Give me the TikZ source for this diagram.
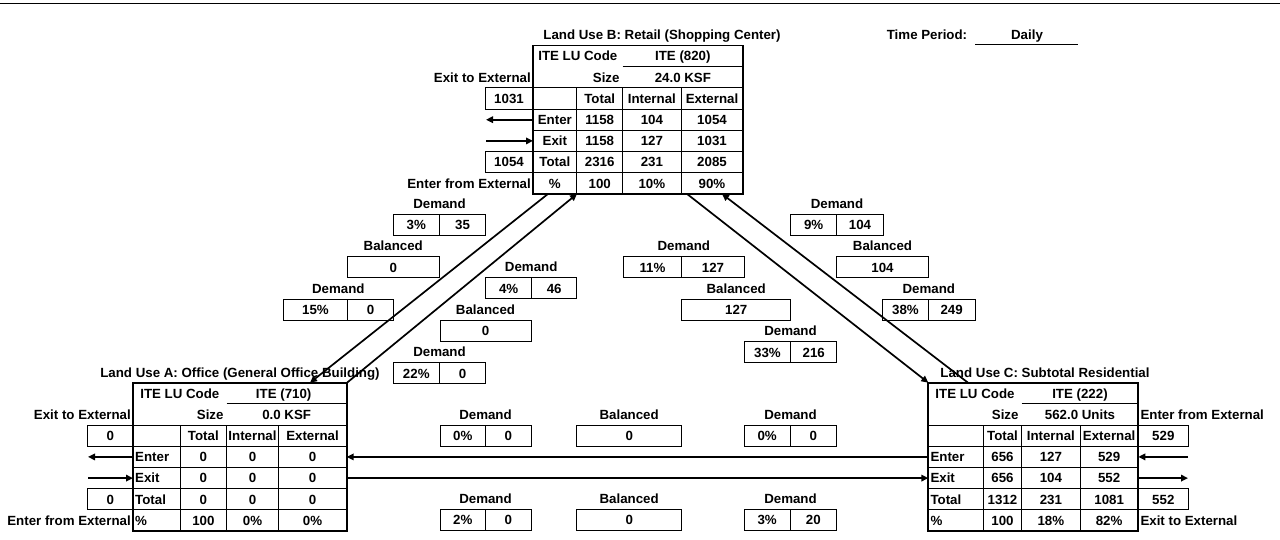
\documentclass[tikz,border=0pt]{standalone}
\usepackage{fontspec}
\setmainfont{Liberation Sans}
\usetikzlibrary{arrows.meta}

%% grid of one land-use table: top y, then the five column edges
\newcommand{\lugrid}[6]{%
  \draw[gridline] (#4,{#1+\rh}) -- (#6,{#1+\rh});
  \foreach \k in {2,...,6}
    \draw[gridline] (#2,{#1+\k*\rh}) -- (#6,{#1+\k*\rh});
  \foreach \c in {#3,#4,#5}
    \draw[gridline] (\c,{#1+2*\rh}) -- (\c,{#1+7*\rh});
  \draw[framed] (#2,#1) rectangle (#6,{#1+7*\rh});
}

%% "Demand" pair: name, left, split, right, top, share, trips
\newcommand{\demand}[7]{%
  \draw[gridline] (#2,#5) rectangle (#4,{#5+\rh});
  \draw[gridline] (#3,#5) -- (#3,{#5+\rh});
  \node (#1-lbl) at ({(#2+#4)/2},{#5-0.5*\rh}) {Demand};
  \node (#1-pct) at ({(#2+#3)/2},{#5+0.5*\rh}) {#6};
  \node (#1-val) at ({(#3+#4)/2},{#5+0.5*\rh}) {#7};
}

%% "Balanced" cell: name, left, right, top, trips
\newcommand{\balanced}[5]{%
  \draw[gridline] (#2,#4) rectangle (#3,{#4+\rh});
  \node (#1-lbl) at ({(#2+#3)/2},{#4-0.5*\rh}) {Balanced};
  \node (#1-val) at ({(#2+#3)/2},{#4+0.5*\rh}) {#5};
}

\begin{document}
\begin{tikzpicture}[
  x=1pt, y=-1pt,
  every node/.style={font=\fontsize{13.3}{15}\selectfont\bfseries,
                     inner sep=0pt, text height=9.5pt, text depth=0pt},
  gridline/.style={line width=0.9pt},
  framed/.style={line width=1.7pt},
  sidebox/.style={draw, line width=0.9pt, minimum height=21.2pt},
  flow/.style={-{Triangle[length=7pt,width=6.5pt]}, line width=1.7pt},
]
\useasboundingbox (0,0) rectangle (1280,539);
\def\rh{21.2}

%% ── Page rule and time period ─────────────────────────
\draw[line width=1.1pt] (0,3.3) -- (1280,3.3);
\node (period)  at (927,35)  {Time Period:};
\node (daily)   at (1027,35) {Daily};
\draw[gridline] (975,44) -- (1078,44);

%% ── Column positions ──────────────────────────────────
\def\Bt{45.5}  \def\Ba{533}   \def\Bb{576.7} \def\Bc{622.7}  \def\Bd{681}  \def\Be{743}
\def\At{382.7} \def\Aa{133}   \def\Ab{180}   \def\Ac{226.7}  \def\Ad{278.3} \def\Ae{346.7}
\def\Ct{382.7} \def\Ca{928.3} \def\Cb{983.3} \def\Cc{1021.7} \def\Cd{1080} \def\Ce{1138.3}

%% ── LAND USE B (top) ──────────────────────────────────
\lugrid{\Bt}{\Ba}{\Bb}{\Bc}{\Bd}{\Be}
\node (B-title) at (662,35) {Land Use B: Retail (Shopping Center)};
\node (B-code) at ({(\Ba+\Bc)/2},{\Bt+0.5*\rh}) {ITE LU Code};
\node (B-ite)  at ({(\Bc+\Be)/2},{\Bt+0.5*\rh}) {ITE (820)};
\node[anchor=east] (B-size) at ({\Bc-3},{\Bt+1.5*\rh}) {Size};
\node (B-ksf)  at ({(\Bc+\Be)/2},{\Bt+1.5*\rh}) {24.0 KSF};
\node (B-h1) at ({(\Bb+\Bc)/2},{\Bt+2.5*\rh}) {Total};
\node (B-h2) at ({(\Bc+\Bd)/2},{\Bt+2.5*\rh}) {Internal};
\node (B-h3) at ({(\Bd+\Be)/2},{\Bt+2.5*\rh}) {External};
\foreach \lbl/\vtot/\vin/\vext [count=\r from 3] in
    {Enter/1158/104/1054, Exit/1158/127/1031, Total/2316/231/2085, \%/100/10\%/90\%} {
  \node (B-\r-0) at ({(\Ba+\Bb)/2},{\Bt+(\r+0.5)*\rh}) {\lbl};
  \node (B-\r-1) at ({(\Bb+\Bc)/2},{\Bt+(\r+0.5)*\rh}) {\vtot};
  \node (B-\r-2) at ({(\Bc+\Bd)/2},{\Bt+(\r+0.5)*\rh}) {\vin};
  \node (B-\r-3) at ({(\Bd+\Be)/2},{\Bt+(\r+0.5)*\rh}) {\vext};
}
\node[anchor=east] (B-exitlbl)  at ({\Ba-2},{\Bt+1.5*\rh}) {Exit to External};
\node[anchor=east] (B-enterlbl) at ({\Ba-2},{\Bt+6.5*\rh}) {Enter from External};
\node[sidebox, minimum width=48pt] (B-exit)  at ({\Ba-24},{\Bt+2.5*\rh}) {1031};
\node[sidebox, minimum width=48pt] (B-enter) at ({\Ba-24},{\Bt+5.5*\rh}) {1054};
\coordinate (B-w3) at (\Ba,{\Bt+3.5*\rh});
\coordinate (B-o3) at (486,{\Bt+3.5*\rh});
\coordinate (B-w4) at (\Ba,{\Bt+4.5*\rh});
\coordinate (B-o4) at (486,{\Bt+4.5*\rh});
\draw[flow] (B-w3) -- (B-o3);
\draw[flow] (B-o4) -- (B-w4);

%% ── LAND USE A (bottom left) ──────────────────────────
\lugrid{\At}{\Aa}{\Ab}{\Ac}{\Ad}{\Ae}
\node (A-title) at (240,373) {Land Use A: Office (General Office Building)};
\node (A-code) at ({(\Aa+\Ac)/2},{\At+0.5*\rh}) {ITE LU Code};
\node (A-ite)  at ({(\Ac+\Ae)/2-3},{\At+0.5*\rh}) {ITE (710)};
\node[anchor=east] (A-size) at ({\Ac-3},{\At+1.5*\rh}) {Size};
\node (A-ksf)  at ({(\Ac+\Ae)/2},{\At+1.5*\rh}) {0.0 KSF};
\node (A-h1) at ({(\Ab+\Ac)/2},{\At+2.5*\rh}) {Total};
\node (A-h2) at ({(\Ac+\Ad)/2},{\At+2.5*\rh}) {Internal};
\node (A-h3) at ({(\Ad+\Ae)/2},{\At+2.5*\rh}) {External};
\foreach \lbl/\vtot/\vin/\vext [count=\r from 3] in
    {Enter/0/0/0, Exit/0/0/0, Total/0/0/0, \%/100/0\%/0\%} {
  \node[anchor=west] (A-\r-0) at ({\Aa+2},{\At+(\r+0.5)*\rh}) {\lbl};
  \node (A-\r-1) at ({(\Ab+\Ac)/2},{\At+(\r+0.5)*\rh}) {\vtot};
  \node (A-\r-2) at ({(\Ac+\Ad)/2},{\At+(\r+0.5)*\rh}) {\vin};
  \node (A-\r-3) at ({(\Ad+\Ae)/2},{\At+(\r+0.5)*\rh}) {\vext};
}
\node[anchor=east] (A-exitlbl)  at ({\Aa-2},{\At+1.5*\rh}) {Exit to External};
\node[anchor=east] (A-enterlbl) at ({\Aa-2},{\At+6.5*\rh}) {Enter from External};
\node[sidebox, minimum width=45.3pt] (A-exit)  at ({\Aa-22.65},{\At+2.5*\rh}) {0};
\node[sidebox, minimum width=45.3pt] (A-enter) at ({\Aa-22.65},{\At+5.5*\rh}) {0};
\coordinate (A-w3) at (\Aa,{\At+3.5*\rh});
\coordinate (A-o3) at (88,{\At+3.5*\rh});
\coordinate (A-w4) at (\Aa,{\At+4.5*\rh});
\coordinate (A-o4) at (88,{\At+4.5*\rh});
\draw[flow] (A-w3) -- (A-o3);
\draw[flow] (A-o4) -- (A-w4);

%% ── LAND USE C (bottom right) ─────────────────────────
\lugrid{\Ct}{\Ca}{\Cb}{\Cc}{\Cd}{\Ce}
\node (C-title) at (1045,373) {Land Use C: Subtotal Residential};
\node (C-code) at ({(\Ca+\Cc)/2},{\Ct+0.5*\rh}) {ITE LU Code};
\node (C-ite)  at ({(\Cc+\Ce)/2},{\Ct+0.5*\rh}) {ITE (222)};
\node[anchor=east] (C-size) at ({\Cc-3},{\Ct+1.5*\rh}) {Size};
\node (C-units) at ({(\Cc+\Ce)/2},{\Ct+1.5*\rh}) {562.0 Units};
\node (C-h1) at ({(\Cb+\Cc)/2},{\Ct+2.5*\rh}) {Total};
\node (C-h2) at ({(\Cc+\Cd)/2},{\Ct+2.5*\rh}) {Internal};
\node (C-h3) at ({(\Cd+\Ce)/2},{\Ct+2.5*\rh}) {External};
\foreach \lbl/\vtot/\vin/\vext [count=\r from 3] in
    {Enter/656/127/529, Exit/656/104/552, Total/1312/231/1081, \%/100/18\%/82\%} {
  \node[anchor=west] (C-\r-0) at ({\Ca+2},{\Ct+(\r+0.5)*\rh}) {\lbl};
  \node (C-\r-1) at ({(\Cb+\Cc)/2},{\Ct+(\r+0.5)*\rh}) {\vtot};
  \node (C-\r-2) at ({(\Cc+\Cd)/2},{\Ct+(\r+0.5)*\rh}) {\vin};
  \node (C-\r-3) at ({(\Cd+\Ce)/2},{\Ct+(\r+0.5)*\rh}) {\vext};
}
\node[anchor=west] (C-enterlbl) at ({\Ce+2},{\Ct+1.5*\rh}) {Enter from External};
\node[anchor=west] (C-exitlbl)  at ({\Ce+2},{\Ct+6.5*\rh}) {Exit to External};
\node[sidebox, minimum width=50pt] (C-enter) at ({\Ce+25},{\Ct+2.5*\rh}) {529};
\node[sidebox, minimum width=50pt] (C-exit)  at ({\Ce+25},{\Ct+5.5*\rh}) {552};
\coordinate (C-e3) at (\Ce,{\Ct+3.5*\rh});
\coordinate (C-o3) at (1188,{\Ct+3.5*\rh});
\coordinate (C-e4) at (\Ce,{\Ct+4.5*\rh});
\coordinate (C-o4) at (1188,{\Ct+4.5*\rh});
\draw[flow] (C-o3) -- (C-e3);
\draw[flow] (C-e4) -- (C-o4);

%% ── Internal trips between land uses ──────────────────
\coordinate (B-s1) at (548,{\Bt+7*\rh});
\coordinate (B-s2) at (577,{\Bt+7*\rh});
\coordinate (B-s3) at (687,{\Bt+7*\rh});
\coordinate (B-s4) at (722,{\Bt+7*\rh});
\coordinate (A-n1) at (310,\At);
\coordinate (A-n2) at (347,\At);
\coordinate (C-n1) at (\Ca,\Ct);
\coordinate (C-n2) at (968,\Ct);
\coordinate (A-e3) at (\Ae,{\At+3.5*\rh});
\coordinate (A-e4) at (\Ae,{\At+4.5*\rh});
\coordinate (C-w3) at (\Ca,{\Ct+3.5*\rh});
\coordinate (C-w4) at (\Ca,{\Ct+4.5*\rh});
\draw[flow] (B-s1) -- (A-n1);
\draw[flow] (A-n2) -- (B-s2);
\draw[flow] (B-s3) -- (C-n1);
\draw[flow] (C-n2) -- (B-s4);
\draw[flow] (C-w3) -- (A-e3);
\draw[flow] (A-e4) -- (C-w4);

%% ── A <-> B ───────────────────────────────────────────
\demand{AB1}{393.3}{439.3}{485.7}{214.3}{3\%}{35}
\balanced{AB2}{347.3}{439.3}{256.7}{0}
\demand{AB3}{283.3}{347.7}{393.3}{299}{15\%}{0}
\demand{BA1}{485.7}{531.7}{576.7}{277.7}{4\%}{46}
\balanced{BA2}{440}{531}{320}{0}
\demand{BA3}{393.3}{439.3}{485.7}{362.7}{22\%}{0}

%% ── B <-> C ───────────────────────────────────────────
\demand{CB1}{790.7}{836.7}{883.3}{214.3}{9\%}{104}
\balanced{CB2}{836.7}{928.3}{256.7}{104}
\demand{CB3}{882.7}{928.3}{975}{299}{38\%}{249}
\demand{BC1}{623.3}{681.7}{744.3}{256.7}{11\%}{127}
\balanced{BC2}{681.7}{790.7}{299.3}{127}
\demand{BC3}{744.3}{790.7}{836.7}{341.7}{33\%}{216}

%% ── A <-> C ───────────────────────────────────────────
\demand{CA1}{440}{485.7}{531}{425.3}{0\%}{0}
\balanced{CA2}{576.7}{681.7}{425.3}{0}
\demand{CA3}{744.3}{790}{836.7}{425.3}{0\%}{0}
\demand{AC1}{440}{485.7}{531}{509}{2\%}{0}
\balanced{AC2}{576.7}{681.7}{509}{0}
\demand{AC3}{744.3}{790}{836.7}{509}{3\%}{20}

\end{tikzpicture}
\end{document}
